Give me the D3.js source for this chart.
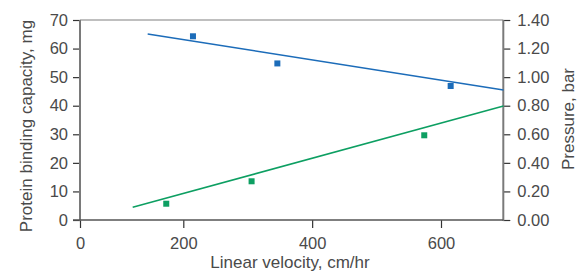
<!DOCTYPE html>
<html>
<head>
<meta charset="utf-8">
<script src="https://cdn.jsdelivr.net/npm/d3@7"></script>
<style>
  html, body { margin: 0; padding: 0; background: #fff; }
  svg text { font-family: "Liberation Sans", "Helvetica", Arial, sans-serif; fill: #4a4a4a; }
</style>
</head>
<body>
<div id="chart"></div>
<script>
// measured points (velocity cm/hr)
const capacityVelocity = [215, 346, 615];
const capacityValues = [64.3, 54.8, 46.9];
const pressureVelocity = [167, 306, 574];
const pressureValues = [0.114, 0.271, 0.593];

// fitted lines, start/end
const capacityFitVelocity = [131, 697];
const capacityFitValues = [65.1, 45.5];
const pressureFitVelocity = [102, 697];
const pressureFitValues = [0.089, 0.798];

const xTicks = [0, 200, 400, 600];
const leftTicks = [0, 10, 20, 30, 40, 50, 60, 70];
const rightTicks = [0, 0.2, 0.4, 0.6, 0.8, 1.0, 1.2, 1.4];

const width = 579;
const height = 272;
const plot = { left: 80, right: 503.3, top: 20, bottom: 220 };

const blue = "#1c6cb9";
const green = "#0d9f62";
const axisColor = "#7a7a7a";
const tickFont = 16.5;
const titleFont = 17;

const svg = d3.select("#chart").append("svg")
  .attr("width", width)
  .attr("height", height);

// the x axis is not uniform: 0 sits on the left axis
const x = d3.scaleLinear()
  .domain([0, 200, 600])
  .range([plot.left, 183.3, 441]);

const yLeft = d3.scaleLinear().domain([0, 70]).range([plot.bottom, plot.top]);
const yRight = d3.scaleLinear().domain([0, 1.4]).range([plot.bottom, plot.top]);

// top border
svg.append("line")
  .attr("x1", plot.left).attr("x2", plot.right)
  .attr("y1", plot.top).attr("y2", plot.top)
  .attr("stroke", "#aaa").attr("stroke-width", 1.5);

function styleAxis(g) {
  g.select(".domain").remove();
  g.selectAll("line").attr("stroke", "#333").attr("stroke-width", 1.2);
  g.selectAll("text").attr("font-size", tickFont).style("fill", "#4a4a4a");
}

svg.append("g")
  .attr("transform", `translate(${plot.left},0)`)
  .call(d3.axisLeft(yLeft).tickValues(leftTicks).tickSize(7).tickPadding(5).tickFormat(d3.format("d")))
  .call(styleAxis);

svg.append("g")
  .attr("transform", `translate(${plot.right},0)`)
  .call(d3.axisRight(yRight).tickValues(rightTicks).tickSize(7).tickPadding(7).tickFormat(d3.format(".2f")))
  .call(styleAxis);

svg.append("g")
  .attr("transform", `translate(0,${plot.bottom})`)
  .call(d3.axisBottom(x).tickValues(xTicks).tickSize(8).tickPadding(9).tickFormat(d3.format("d")))
  .call(styleAxis);

// axis lines
svg.append("line")
  .attr("x1", plot.left).attr("x2", plot.left)
  .attr("y1", plot.top).attr("y2", plot.bottom + 1)
  .attr("stroke", axisColor).attr("stroke-width", 2);
svg.append("line")
  .attr("x1", plot.right).attr("x2", plot.right)
  .attr("y1", plot.top).attr("y2", plot.bottom + 1)
  .attr("stroke", axisColor).attr("stroke-width", 2);
svg.append("line")
  .attr("x1", plot.left - 7).attr("x2", plot.right)
  .attr("y1", plot.bottom).attr("y2", plot.bottom)
  .attr("stroke", "#555").attr("stroke-width", 1.5);

// fit lines
const capLine = d3.line()
  .x(i => x(capacityFitVelocity[i]))
  .y(i => yLeft(capacityFitValues[i]));
const presLine = d3.line()
  .x(i => x(pressureFitVelocity[i]))
  .y(i => yRight(pressureFitValues[i]));

svg.append("path")
  .attr("d", capLine([0, 1]))
  .attr("fill", "none").attr("stroke", blue).attr("stroke-width", 1.5);
svg.append("path")
  .attr("d", presLine([0, 1]))
  .attr("fill", "none").attr("stroke", green).attr("stroke-width", 1.5);

// markers
const sq = 6;
svg.append("g").selectAll("rect")
  .data(d3.range(capacityVelocity.length))
  .join("rect")
  .attr("x", i => x(capacityVelocity[i]) - sq / 2)
  .attr("y", i => yLeft(capacityValues[i]) - sq / 2)
  .attr("width", sq).attr("height", sq)
  .attr("fill", blue);

svg.append("g").selectAll("rect")
  .data(d3.range(pressureVelocity.length))
  .join("rect")
  .attr("x", i => x(pressureVelocity[i]) - sq / 2)
  .attr("y", i => yRight(pressureValues[i]) - sq / 2)
  .attr("width", sq).attr("height", sq)
  .attr("fill", green);

// titles
svg.append("text")
  .attr("x", 290).attr("y", 268)
  .attr("text-anchor", "middle")
  .attr("font-size", titleFont)
  .text("Linear velocity, cm/hr");

svg.append("text")
  .attr("transform", "translate(32,126) rotate(-90)")
  .attr("text-anchor", "middle")
  .attr("font-size", titleFont)
  .text("Protein binding capacity, mg");

svg.append("text")
  .attr("transform", "translate(574,119) rotate(-90)")
  .attr("text-anchor", "middle")
  .attr("font-size", titleFont)
  .text("Pressure, bar");
</script>
</body>
</html>
